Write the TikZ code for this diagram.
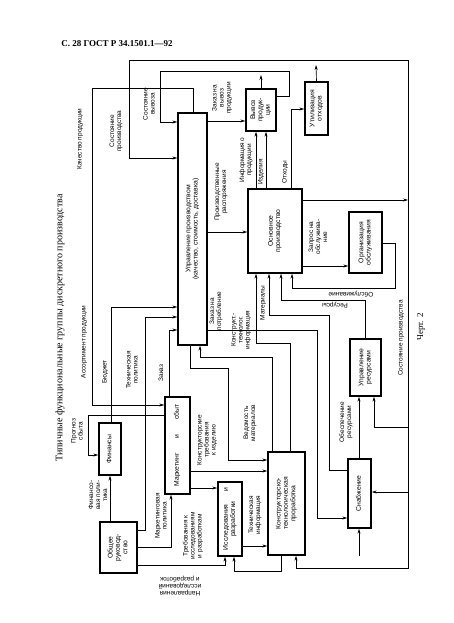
\documentclass[tikz,border=0pt]{standalone}
\usepackage{fontspec}
\setmainfont{Liberation Sans}
\newfontfamily\serifcyr{Liberation Serif}
\usepackage{graphicx}
\usetikzlibrary{arrows.meta}

\tikzset{
  blk/.style={draw, line width=1.3pt, inner sep=0pt, font=\fontsize{6.8}{7.4}\selectfont},
  ln/.style={line width=0.65pt},
  ar/.style={line width=0.65pt, -{Stealth[length=5pt,width=3pt]}},
  lbl/.style={inner sep=0pt, align=center, font=\fontsize{6.5}{7}\selectfont},
}
\newcommand{\vtxt}[1]{\rotatebox{90}{\begin{tabular}{@{}c@{}}#1\end{tabular}}}

\begin{document}
\begin{tikzpicture}[x=1pt,y=-1pt]
\useasboundingbox (0,0) rectangle (453,623);

\node[inner sep=0pt, font=\serifcyr\bfseries\fontsize{9}{10}\selectfont] (hdr) at (117,44) {С. 28 ГОСТ Р 34.1501.1—92};
\node[rotate=90, inner sep=0pt, font=\serifcyr\fontsize{10}{12}\selectfont] (ttl) at (60,328) {Типичные функциональные группы дискретного производства};
\node[rotate=90, inner sep=0pt, font=\serifcyr\fontsize{9}{10}\selectfont] (chrt) at (421,327) {Черт. 2};

% blocks
\node[blk, minimum width=37pt, minimum height=51pt] (orr) at (118.5,547.5) {\vtxt{Общее\\руковод-\\ство}};
\node[blk, minimum width=22pt, minimum height=52pt] (fin) at (110,449) {\vtxt{Финансы}};
\node[blk, minimum width=25pt, minimum height=97pt] (ms) at (177.5,445.5) {\vtxt{\makebox[82pt][s]{Маркетинг\hfill и\hfill сбыт}}};
\node[blk, minimum width=24pt, minimum height=74pt] (ir) at (230,519) {\vtxt{\makebox[62pt][s]{Исследования\hfill и}\\разработки}};
\node[blk, minimum width=37pt, minimum height=103pt] (kt) at (286.5,503.5) {\vtxt{Конструкторско-\\технологическая\\проработка}};
\node[blk, minimum width=23pt, minimum height=69pt] (sn) at (359.5,493.5) {\vtxt{Снабжение}};
\node[blk, minimum width=31pt, minimum height=57pt] (ur) at (365.5,367.5) {\vtxt{Управление\\ресурсами}};
\node[blk, minimum width=33pt, minimum height=61pt] (oo) at (365.5,242.5) {\vtxt{Организация\\обслуживания}};
\node[blk, minimum width=54pt, minimum height=84pt] (op) at (275,231) {\vtxt{Основное\\производство}};
\node[blk, minimum width=29pt, minimum height=232pt] (up) at (192.5,229) {\vtxt{Управление производством\\(качество, стоимость, доставка)}};
\node[blk, minimum width=30pt, minimum height=42pt] (vp) at (261,110) {\vtxt{Вывоз\\продук-\\ции}};
\node[blk, minimum width=23pt, minimum height=53pt] (uo) at (316.5,108.5) {\vtxt{Утилизация\\отходов}};

\coordinate (vpout) at (261,75);
\coordinate (uoout) at (316,65);
\coordinate (snin) at (359,556);

% state of production loop
\draw[ar] (op.east |- 0,200) -- (408,200);
\draw[ar] (408,200) -- (408,60) -- (129,60) -- (129,158) -- (up.west |- 0,158);
\draw[ar] (408,200) -- (408,568) -- (296,568) -- (kt.south -| 296,0);
\draw[ar] (408,427) -- (374,427) -- (ur.south -| 374,0);
\draw[ar] (408,492) -- (sn.east |- 0,492);

% upper part
\draw[ar] (vp.east |- 0,96) -- (289,96) -- (289,71) -- (160,71) -- (160,122) -- (up.west |- 0,122);
\draw[ar] (vp.north) -- (vpout);
\draw[ar] (uo.north) -- (uoout);
\draw[ar] (up.east |- 0,121) -- (vp.west |- 0,121);
\draw[ar] (up.east |- 0,232) -- (op.west |- 0,232);
\draw[ar] (op.north -| 256,0) -- (vp.south -| 256,0);
\draw[ar] (op.north -| 266,0) -- (vp.south -| 266,0);
\draw[ar] (op.north -| 291,0) -- (291,109) -- (uo.west |- 0,109);
\draw[ar] (op.east |- 0,266) -- (oo.west |- 0,266);
\draw[ar] (oo.east |- 0,243) -- (395,243) -- (395,288) -- (292,288) -- (op.south -| 292,0);
\draw[ar] (ur.north -| 365,0) -- (365,300) -- (281,300) -- (op.south -| 281,0);
\draw[ar] (sn.west |- 0,470) -- (329,470) -- (329,315) -- (269,315) -- (op.south -| 269,0);
\draw[ar] (kt.north -| 290,0) -- (290,343) -- (256,343) -- (op.south -| 256,0);
\draw[ar] (kt.north -| 272,0) -- (272,357) -- (200,357) -- (up.south -| 200,0);
\draw[ar] (up.east |- 0,330) -- (317,330) -- (317,518) -- (sn.west |- 0,518);
\draw[ar] (up.south -| 190,0) -- (190,368) -- (228,368) -- (228,460) -- (kt.west |- 0,460);

% lower part
\draw[ar] (ms.east |- 0,471) -- (kt.west |- 0,471);
\draw[ar] (ms.east |- 0,488) -- (ir.west |- 0,488);
\draw[ar] (ir.east |- 0,546) -- (kt.west |- 0,546);
\draw[ar] (kt.south -| 281,0) -- (281,571) -- (234,571) -- (ir.south -| 234,0);
\draw[ar] (orr.east |- 0,565) -- (225,565) -- (ir.south -| 225,0);
\draw[ar] (orr.east |- 0,547) -- (171,547) -- (ms.south -| 171,0);
\draw[ar] (orr.east |- 0,530) -- (145,530) -- (145,317) -- (up.west |- 0,317);
\draw[ar] (orr.north -| 110,0) -- (fin.south);
\draw[ar] (fin.north -| 111,0) -- (111,307) -- (up.west |- 0,307);
\draw[ar] (ms.north -| 169,0) -- (169,330) -- (up.west |- 0,330);
\draw[ar] (ms.west |- 0,415) -- (88,415) -- (88,455) -- (fin.west |- 0,455);
\draw[ar] (up.north -| 193,0) -- (193,88) -- (92,88) -- (92,405) -- (ms.west |- 0,405);
\draw[ar] (sn.north -| 359,0) -- (ur.south -| 359,0);
\draw[ar] (snin) -- (sn.south -| snin);

% labels
\node[lbl, rotate=90] (lkach) at (80,139) {Качество продукции};
\node[lbl, rotate=90] (lass) at (84,342) {Ассортимент продукции};
\node[lbl, rotate=90] (lsp1) at (116,131) {Состояние\\производства};
\node[lbl, rotate=90] (lsv) at (149,104) {Состояние\\вывоза};
\node[lbl, rotate=90] (lbud) at (105,372) {Бюджет};
\node[lbl, rotate=90] (ltp) at (132,370) {Техническая\\политика};
\node[lbl, rotate=90] (lzak) at (161,373) {Заказ};
\node[lbl, rotate=90] (lprog) at (77,431) {Прогноз\\сбыта};
\node[lbl, rotate=90] (lfp) at (98,495) {Финансо-\\вая поли-\\тика};
\node[lbl, rotate=90] (lmp) at (161,516) {Маркетинговая\\политика};
\node[lbl, rotate=90] (ltr) at (193,536) {Требования к\\исследованиям\\и разработкам};
\node[lbl, rotate=180] (lnap) at (180,586) {Направления\\исследований\\и разработок};
\node[lbl, rotate=90] (lkt) at (207,440) {Конструкторские\\требования\\к изделию};
\node[lbl, rotate=90] (lved) at (250,423) {Ведомость\\материалов};
\node[lbl, rotate=90] (lti) at (255,515) {Техническая\\информация};
\node[lbl, rotate=90] (lobr) at (346,422) {Обеспечение\\ресурсами};
\node[lbl, rotate=90] (lsp2) at (401,338) {Состояние производства};
\node[lbl, rotate=90] (lzp) at (216,311) {Заказ на\\потребление};
\node[lbl, rotate=90] (lkti) at (241,330) {Конструкт.-\\технолог.\\информация};
\node[lbl, rotate=90] (lmat) at (263,303) {Материалы};
\node[lbl, rotate=180] (lres) at (335,305) {Ресурсы};
\node[lbl, rotate=180] (lobs) at (351,294) {Обслуживание};
\node[lbl, rotate=90] (lzo) at (318,237) {Запрос на\\обслужива-\\ние};
\node[lbl, rotate=90] (lpr) at (221,192) {Производственные\\распоряжения};
\node[lbl, rotate=90] (lzv) at (222,98) {Заказ на\\вывоз\\продукции};
\node[lbl, rotate=90] (linf) at (246,160) {Информация о\\продукции};
\node[lbl, rotate=90] (lizd) at (261,172) {Изделия};
\node[lbl, rotate=90] (lotx) at (285,172) {Отходы};
\end{tikzpicture}
\end{document}
